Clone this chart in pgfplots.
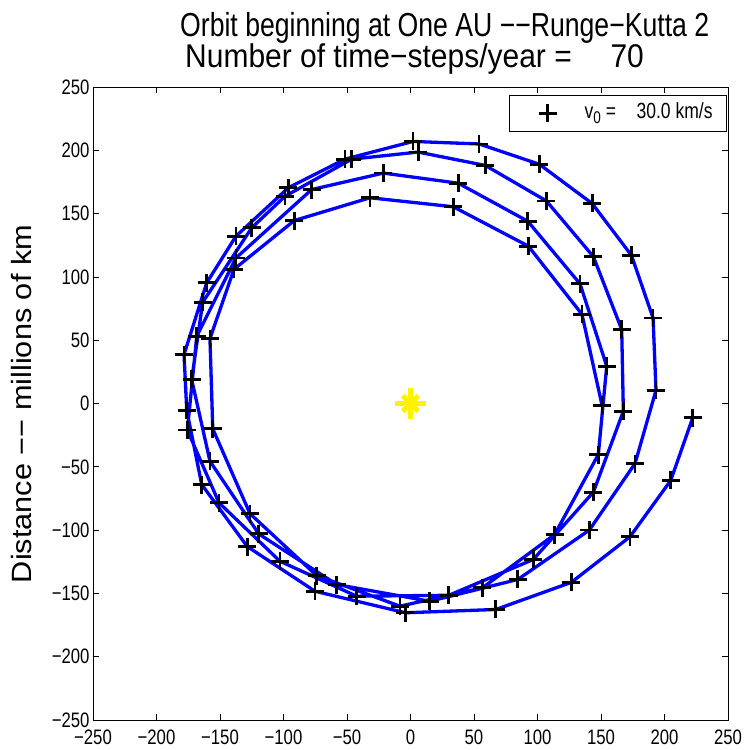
\documentclass[border=0pt]{standalone}
\usepackage{fontspec}
\setmainfont{Liberation Sans}
\usepackage{pgfplots}
\usepackage{pgfplotstable}
\pgfplotsset{compat=1.18}
\newfontfamily\hf{Liberation Sans}[FakeStretch=0.8]
\newfontfamily\vf{Liberation Sans}[FakeStretch=1.1]

\pgfplotstableread{
x y
150.8 -1.3
135.0 70.5
92.8 124.3
33.7 155.4
-31.9 162.5
-91.5 144.5
-139.0 106.0
-157.9 51.3
-155.7 -20.0
-126.4 -87.0
-73.9 -135.9
-8.3 -160.1
56.6 -145.6
113.5 -103.5
147.9 -40.3
154.5 29.5
133.5 94.5
92.3 144.0
37.6 174.0
-21.4 182.0
-77.8 169.0
-137.4 115.0
-168.3 53.2
-175.7 -21.0
-150.8 -78.4
-102.8 -124.6
-42.4 -152.2
30.2 -151.5
96.7 -123.2
144.0 -70.0
167.6 -6.1
166.3 58.5
144.0 116.0
107.0 160.0
59.0 188.0
6.0 198.6
-46.3 193.0
-98.8 163.7
-125.0 138.8
-163.6 80.0
-172.3 19.0
-157.9 -45.6
-119.5 -103.0
-58.1 -143.0
15.2 -156.2
84.5 -139.0
140.8 -100.0
176.8 -47.4
193.3 10.5
191.0 67.5
174.0 117.0
143.0 158.0
101.4 189.0
54.0 205.0
2.0 207.0
-51.6 193.0
-96.2 170.4
-137.4 132.2
-160.5 95.3
-178.3 38.7
-176.2 -5.3
-164.4 -64.0
-128.5 -113.0
-75.2 -148.3
-4.0 -165.3
67.2 -162.7
126.6 -141.3
172.8 -105.3
204.9 -60.8
222.2 -11.3
}\orbit

\begin{document}
\begin{tikzpicture}
\useasboundingbox (-93bp,-30bp) rectangle (657bp,720bp);
\begin{axis}[
  at={(0,0)}, anchor=south west,
  width=635bp, height=633bp, scale only axis,
  xmin=-250, xmax=250, ymin=-250, ymax=250,
  xtick={-250,-200,...,250}, ytick={-250,-200,...,250},
  xticklabels={−250,−200,−150,−100,−50,0,50,100,150,200,250},
  yticklabels={−250,−200,−150,−100,−50,0,50,100,150,200,250},
  tick align=inside, major tick length=6bp,
  tick style={black, line width=0.6bp},
  axis line style={black, line width=0.8bp},
  ticklabel style={font=\hf\fontsize{21}{21}\selectfont},
  xticklabel style={yshift=-6bp},
  yticklabel style={xshift=0bp},
  clip=false,
  legend style={at={(1,1)}, anchor=north east, xshift=-1bp, yshift=-8bp,
    draw=black, line width=0.8bp, font=\hf\fontsize{22}{22}\selectfont,
    inner xsep=0pt, inner ysep=0pt,
    nodes={inner sep=0pt, text height=23bp, text depth=13bp}},
  legend cell align=left,
  legend image code/.code={\path[draw=none,fill=none] (0bp,-8bp) rectangle (75bp,8bp); \draw[#1] plot coordinates {(38bp,0bp)};},
]
\addplot[only marks, mark=+, mark size=9bp, black, line width=2.8bp] table[x=x,y=y] {\orbit};
\addlegendentry{\makebox[142bp][l]{v\raisebox{-0.45ex}{\fontsize{17}{17}\selectfont 0} =\hfill 30.0 km/s\hspace{14bp}}}
\addplot[blue, line width=3.3bp, forget plot] table[x=x,y=y] {\orbit};
\addplot[only marks, mark=+, mark size=15.5bp, yellow, line width=5bp, forget plot] coordinates {(0,0)};
\addplot[only marks, mark=x, mark size=11bp, yellow, line width=5bp, forget plot] coordinates {(0,0)};
\end{axis}
\node[anchor=base west, font=\hf\fontsize{33.4}{33.4}\selectfont, inner sep=0pt] at (87bp,683bp) {Orbit beginning at One AU −−Runge−Kutta 2};
\node[anchor=base west, font=\hf\fontsize{33}{33}\selectfont, inner sep=0pt, xscale=1.14] at (92bp,652bp) {Number of time−steps/year =\hspace{34bp}70};
\node[rotate=90, anchor=center, font=\vf\fontsize{28}{28}\selectfont] at (-71bp,316bp) {Distance −− millions of km};
\end{tikzpicture}
\end{document}
